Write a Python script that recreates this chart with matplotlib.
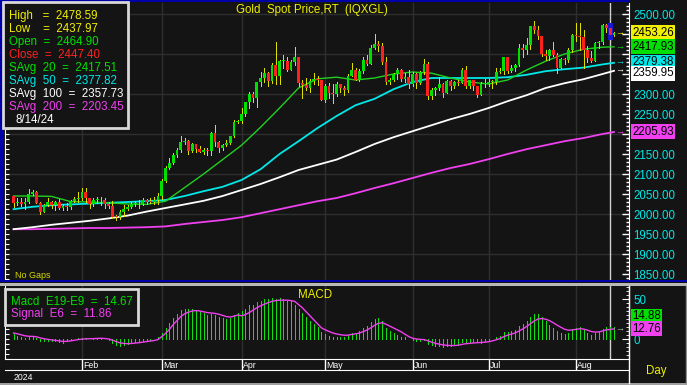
import numpy as np
import pandas as pd
import matplotlib
matplotlib.use('Agg')
import matplotlib.pyplot as plt
from matplotlib.patches import Rectangle
from matplotlib.lines import Line2D
from matplotlib.ticker import MultipleLocator, FixedLocator, FuncFormatter
import matplotlib.transforms as mtransforms

plt.rcParams['font.family'] = ['Liberation Sans', 'DejaVu Sans']

# %% data: daily bars, Jan 8 - Aug 15 2024
dates = pd.bdate_range('2024-01-08', '2024-08-15')

opens = [
    # Jan
    2045, 2028, 2030, 2024, 2029, 2051, 2055, 2028, 2006, 2023, 2029, 2022, 2029, 2014, 2020, 2018, 2032, 2037,
    # Feb
    2039, 2054, 2039, 2025, 2035, 2035, 2034, 2024, 2020, 1993, 1992, 2004, 2013, 2017, 2025, 2025, 2024, 2036, 2031, 2030, 2034,
    # Mar
    2044, 2083, 2114, 2128, 2148, 2159, 2179, 2182, 2158, 2174, 2162, 2155, 2160, 2157, 2203, 2181, 2165, 2172, 2178, 2194, 2230,
    # Apr
    2232, 2251, 2280, 2300, 2290, 2329, 2339, 2352, 2333, 2372, 2344, 2383, 2383, 2361, 2379, 2392, 2327, 2322, 2316, 2332, 2337, 2335,
    # May
    2286, 2320, 2303, 2301, 2324, 2314, 2309, 2346, 2360, 2336, 2358, 2386, 2376, 2415, 2425, 2421, 2379, 2329, 2334, 2350, 2361, 2338, 2343,
    # Jun
    2326, 2350, 2327, 2355, 2376, 2294, 2311, 2316, 2324, 2303, 2333, 2319, 2329, 2328, 2360, 2321, 2334, 2319, 2298, 2326,
    # Jul
    2326, 2330, 2330, 2356, 2357, 2392, 2358, 2364, 2372, 2415, 2411, 2422, 2469, 2459, 2445, 2400, 2396, 2409, 2398, 2364, 2387, 2384, 2411,
    # Aug
    2447, 2446, 2443, 2409, 2390, 2383, 2427, 2431, 2472, 2464.90, 2448,
]
highs = [
    2046, 2040, 2040, 2040, 2062, 2059, 2057, 2031, 2025, 2041, 2033, 2032, 2037, 2024, 2027, 2036, 2043, 2056,
    2065, 2065, 2041, 2040, 2043, 2042, 2039, 2031, 2032, 1997, 2009, 2023, 2023, 2031, 2033, 2035, 2041, 2038, 2040, 2043, 2052,
    2088, 2119, 2141, 2153, 2165, 2195, 2189, 2185, 2178, 2175, 2171, 2164, 2165, 2205, 2223, 2183, 2176, 2184, 2196, 2236, 2234,
    2266, 2281, 2305, 2305, 2330, 2354, 2365, 2354, 2378, 2431, 2385, 2397, 2392, 2385, 2417, 2392, 2334, 2339, 2338, 2352, 2345, 2336,
    2326, 2327, 2324, 2331, 2326, 2319, 2351, 2378, 2364, 2363, 2393, 2398, 2422, 2450, 2433, 2427, 2393, 2340, 2353, 2364, 2362, 2352, 2360,
    2354, 2353, 2358, 2388, 2380, 2314, 2317, 2342, 2327, 2336, 2334, 2333, 2336, 2366, 2369, 2335, 2336, 2320, 2329, 2338,
    2338, 2335, 2365, 2364, 2392, 2393, 2372, 2376, 2424, 2424, 2439, 2469, 2483, 2470, 2446, 2410, 2412, 2431, 2402, 2390, 2391, 2415, 2451,
    2477, 2477, 2461, 2420, 2408, 2431, 2432, 2476, 2474, 2478.59, 2455,
]
lows = [
    2017, 2022, 2021, 2013, 2028, 2047, 2028, 2001, 2006, 2021, 2015, 2011, 2013, 2009, 2011, 2012, 2030, 2031,
    2035, 2030, 2015, 2021, 2027, 2023, 2015, 2016, 1990, 1984, 1987, 1995, 2011, 2015, 2020, 2015, 2022, 2025, 2028, 2025, 2025,
    2038, 2079, 2112, 2125, 2142, 2155, 2176, 2150, 2156, 2154, 2155, 2149, 2147, 2147, 2171, 2156, 2160, 2170, 2174, 2193, 2228,
    2228, 2245, 2266, 2279, 2267, 2320, 2329, 2319, 2327, 2326, 2325, 2365, 2358, 2359, 2372, 2320, 2291, 2310, 2306, 2326, 2323, 2285,
    2280, 2291, 2277, 2295, 2305, 2298, 2306, 2345, 2334, 2332, 2353, 2373, 2376, 2413, 2407, 2374, 2325, 2325, 2332, 2337, 2333, 2329, 2314,
    2320, 2315, 2325, 2351, 2287, 2287, 2298, 2310, 2292, 2302, 2310, 2316, 2322, 2327, 2316, 2316, 2310, 2293, 2298, 2318,
    2319, 2316, 2325, 2352, 2351, 2353, 2355, 2357, 2369, 2393, 2401, 2413, 2453, 2438, 2394, 2384, 2385, 2395, 2353, 2364, 2374, 2380, 2404,
    2432, 2410, 2364, 2380, 2381, 2382, 2415, 2425, 2456, 2437.97, 2446,
]
closes = [
    2028, 2030, 2024, 2029, 2049, 2055, 2028, 2006, 2023, 2029, 2022, 2029, 2014, 2020, 2018, 2032, 2037, 2039,
    2054, 2039, 2025, 2035, 2035, 2034, 2024, 2020, 1993, 1992, 2004, 2013, 2017, 2025, 2025, 2024, 2036, 2031, 2030, 2034, 2044,
    2083, 2114, 2128, 2148, 2159, 2179, 2182, 2158, 2174, 2162, 2155, 2160, 2157, 2203, 2181, 2165, 2172, 2178, 2194, 2230, 2232,
    2251, 2280, 2300, 2290, 2329, 2339, 2352, 2333, 2372, 2344, 2383, 2383, 2361, 2379, 2392, 2327, 2322, 2316, 2332, 2337, 2335, 2286,
    2320, 2303, 2301, 2324, 2314, 2309, 2346, 2360, 2336, 2358, 2386, 2376, 2415, 2425, 2421, 2379, 2329, 2334, 2350, 2361, 2338, 2343, 2326,
    2350, 2327, 2355, 2376, 2294, 2311, 2316, 2324, 2303, 2333, 2319, 2329, 2328, 2360, 2321, 2334, 2319, 2298, 2326, 2326,
    2330, 2330, 2356, 2357, 2392, 2358, 2364, 2372, 2415, 2411, 2422, 2469, 2459, 2445, 2400, 2396, 2409, 2398, 2364, 2387, 2384, 2411, 2447,
    2446, 2443, 2409, 2390, 2383, 2427, 2431, 2472, 2465, 2447.40, 2453.26,
]

# moving averages, every 5 bars
ma_idx = [0, 5, 10, 15, 20, 25, 30, 35, 40, 45, 50, 55, 60, 65, 70, 75, 80, 85, 90, 95,
          100, 105, 110, 115, 120, 125, 130, 135, 140, 145, 150, 155, 158]
sma20 = [2045, 2045, 2044, 2031, 2030, 2028, 2025, 2024, 2032, 2066, 2100, 2136, 2172, 2217, 2265, 2315, 2338,
         2342, 2335, 2340, 2350, 2355, 2352, 2340, 2330, 2325, 2335, 2360, 2382, 2400, 2412, 2417, 2418]
sma50 = [2012, 2018, 2022, 2024, 2026, 2028, 2030, 2032, 2035, 2045, 2057, 2068, 2085, 2112, 2150, 2182, 2215,
         2245, 2272, 2288, 2312, 2330, 2340, 2340, 2340, 2340, 2342, 2348, 2357, 2362, 2366, 2374, 2378]
sma100 = [1962, 1967, 1973, 1978, 1983, 1989, 1996, 2006, 2015, 2024, 2033, 2045, 2060, 2075, 2092, 2110, 2123,
          2136, 2155, 2175, 2192, 2207, 2222, 2237, 2250, 2265, 2282, 2297, 2315, 2327, 2337, 2350, 2358]
sma200 = [1962, 1962, 1963, 1964, 1965, 1965, 1966, 1967, 1969, 1975, 1980, 1985, 1992, 2002, 2012, 2022, 2032,
          2040, 2052, 2065, 2077, 2090, 2103, 2115, 2125, 2137, 2150, 2162, 2172, 2182, 2190, 2200, 2205]

ma_legend = [2417.51, 2377.82, 2357.73, 2203.45]
ma_marker = [2417.93, 2379.38, 2359.95, 2205.93]

macd = [
    6, 4, 2.5, 1, 2, 3, 1.5, -2, -2.5, -2.5, -3, -3, -4, -4.5, -3, -1, 0.5, 1.5,
    1, 1.5, 0.5, 1, 1.5, 1, 0, -1, -5, -8, -8.5, -7.5, -6.5, -5, -4, -3.5, -2, -1.5, -1, 0, 2,
    8, 14, 20, 26, 31, 36, 38, 37, 37, 36, 34, 32, 30, 31, 30, 28, 26, 25, 26, 30, 32,
    35, 38, 42, 43, 46, 48, 50, 50, 51, 50, 51, 50, 48, 47, 43, 38, 32, 27, 23, 19, 15, 9,
    6, 4, 3, 3, 3, 3, 5, 8, 8, 10, 14, 16, 21, 25, 26, 22, 14, 10, 8, 5, 3, 2, 0,
    -1, -2, -2, -1, -6, -8, -9, -9, -10, -9, -9, -8, -7, -4, -4, -4, -4, -4, -5, -3,
    -2, 0, 3, 4, 9, 9, 10, 11, 16, 19, 23, 28, 31, 31, 27, 23, 18, 14, 10, 8, 6, 8, 12,
    14, 15, 11, 8, 5, 7, 9, 13, 15, 14.67, 14.88,
]
signal = [
    7.5, 6.5, 5.3, 4.0, 3.4, 3.3, 2.8, 1.4, 0.3, -0.5, -1.2, -1.7, -2.4, -3.0, -3.0, -2.4, -1.6, -0.7,
    -0.2, 0.3, 0.3, 0.5, 0.8, 0.9, 0.6, 0.1, -1.4, -3.3, -4.8, -5.6, -5.9, -5.6, -5.1, -4.6, -3.9, -3.2, -2.6, -1.9, -0.7,
    3, 7, 12, 18, 23, 28, 31.5, 33.5, 35, 35.5, 35, 34, 33, 32.5, 32, 31, 29.5, 28, 27.5, 28.5, 30,
    29, 30.5, 33, 36, 39, 41.5, 43.5, 45.5, 47, 48, 48.5, 48.5, 48.5, 48, 47, 43, 39, 34, 29, 24, 19, 14,
    11.5, 9.4, 7.6, 6.3, 5.4, 4.7, 4.8, 5.7, 6.4, 7.4, 9.3, 11.2, 14, 17.1, 19.6, 20.3, 18.5, 16.1, 13.8, 11.3, 9, 6, 3,
    1, 0, -0.5, -0.7, -2.2, -3.9, -5.4, -6.4, -7.4, -7.9, -8.2, -8.1, -7.8, -6.7, -5.9, -5.4, -5, -4.7, -4.4, -4,
    -3.4, -2.4, -0.9, 0.5, 3, 4.7, 6.2, 7.6, 10, 12.6, 15.6, 19.1, 22.5, 25, 25.5, 24.8, 23, 20.4, 17.4, 14.7, 12.2, 11, 11.3,
    12, 12.9, 12.4, 11.1, 9.4, 8.7, 8.8, 10, 11.4, 11.86, 12.76,
]

cursor_bar = 157  # 8/14/24

# %% layout helpers (pixel coords of the 687x385 picture)
W, H = 687, 385
BG = '#141414'
GRID = '#2e2e2e'
YEL = '#f0f000'
GRN = '#00e000'
RED = '#ff2020'
CYN = '#00e8e8'
MAG = '#f040f0'
PX = 0.72  # one pixel, in points


def fx(px):
    return px / W


def fy(py):
    return 1 - py / H


fig = plt.figure(figsize=(W / 100, H / 100), dpi=100, facecolor=BG)


def panel(top, bottom, left=5, right=629):
    a = fig.add_axes([fx(left), fy(bottom), fx(right) - fx(left), fy(top) - fy(bottom)], facecolor=BG)
    for s in a.spines.values():
        s.set_visible(False)
    a.tick_params(axis='x', bottom=False, labelbottom=False)
    return a


x = np.arange(len(dates))
xlim = (-2.26, 161.95)
month_starts = [i for i in range(1, len(dates)) if dates[i].month != dates[i - 1].month]

ax = panel(3, 280)
ax2 = panel(286, 359)
ax3 = panel(359, 370)
for a in (ax, ax2, ax3):
    a.set_xlim(*xlim)

# %% main price panel
ax.set_ylim(1835, 2527.5)
for lvl in range(1900, 2501, 100):
    ax.axhline(lvl, color=GRID, lw=1, zorder=0)
for m in month_starts:
    ax.axvline(m, color=GRID, lw=1, zorder=0)
ax.axvline(cursor_bar, color='#d0d0d0', lw=1, zorder=1)

o = np.array(opens)
c = np.array(closes)
up = c >= o
body_lo = np.minimum(o, c)
body_h = np.maximum(np.abs(c - o), 2)
wick_col = ['#e0e000'] * len(x)
wick_col[cursor_bar] = '#1818d0'
ax.vlines(x, lows, highs, colors=wick_col, lw=PX, zorder=3, antialiased=False)
ax.vlines([cursor_bar], lows[cursor_bar], highs[cursor_bar], colors='#1818d0', lw=2.5, zorder=3,
          antialiased=False)
ax.bar(x, body_h, bottom=body_lo, width=0.72, color=np.where(up, GRN, RED), zorder=4, linewidth=0,
       antialiased=False)

ax.plot(ma_idx, sma200, color=MAG, lw=1.3, zorder=2)
ax.plot(ma_idx, sma100, color='white', lw=1.3, zorder=2)
ax.plot(ma_idx, sma50, color=CYN, lw=1.3, zorder=2)
ax.plot(ma_idx, sma20, color='#20d020', lw=1.0, zorder=2)

# right axis
ax.yaxis.tick_right()
ax.spines['right'].set_visible(True)
ax.spines['right'].set_color('white')
ax.yaxis.set_major_locator(MultipleLocator(50))
ax.yaxis.set_minor_locator(MultipleLocator(10))
shown = {1850, 1900, 1950, 2000, 2050, 2100, 2150, 2250, 2300, 2500}
ax.yaxis.set_major_formatter(FuncFormatter(lambda v, p: f'{v:.2f}' if round(v) in shown else ''))
ax.tick_params(axis='y', which='major', direction='in', length=5, color='white', width=1,
               labelcolor=CYN, labelsize=8.3, pad=3)
ax.tick_params(axis='y', which='minor', direction='in', length=2.5, color='white', width=1)
sec = ax.secondary_yaxis('left')
sec.yaxis.set_major_locator(MultipleLocator(12.5))
sec.tick_params(direction='in', length=3, color='white', labelleft=False)
sec.spines['left'].set_color('white')

# value markers on the right
blend = mtransforms.blended_transform_factory(ax.transAxes, ax.transData)
marks = [(closes[-1], '#f0f000', 0), (ma_marker[0], GRN, 0), (ma_marker[1], CYN, 0),
         (ma_marker[2], 'white', -2.5), (ma_marker[3], MAG, 0)]
for val, col, dy in marks:
    ax.annotate(f'{val:.2f}', xy=(1.005, val), xycoords=blend, xytext=(0, dy), textcoords='offset points',
                ha='left', va='center', fontsize=8.3, color='black', annotation_clip=False,
                bbox=dict(boxstyle='square,pad=0.12', fc=col, ec='none'))
    ax.text(0.9856, val, '→', transform=blend, color=col, fontsize=6.5, ha='center', va='center',
            fontweight='bold', zorder=6)

# %% MACD panel
ax2.set_ylim(-25, 66.25)
for m in month_starts:
    ax2.axvline(m, color=GRID, lw=1, zorder=0)
ax2.axvline(cursor_bar, color='#d0d0d0', lw=1, zorder=1)
ax2.vlines(x, 0, macd, colors='#10e010', lw=PX, zorder=2, antialiased=False)
ax2.plot(x, signal, color=MAG, lw=1, zorder=3)
ax2.yaxis.tick_right()
ax2.spines['right'].set_visible(True)
ax2.spines['right'].set_color('white')
ax2.yaxis.set_major_locator(FixedLocator([0, 50]))
ax2.yaxis.set_minor_locator(MultipleLocator(5))
ax2.yaxis.set_major_formatter(FuncFormatter(lambda v, p: f'{v:.0f}'))
ax2.tick_params(axis='y', which='major', direction='in', length=5, color='white',
                labelcolor=CYN, labelsize=8.3, pad=3)
ax2.tick_params(axis='y', which='minor', direction='in', length=2.5, color='white')
sec2 = ax2.secondary_yaxis('left')
sec2.yaxis.set_major_locator(MultipleLocator(6.25))
sec2.tick_params(direction='in', length=3, color='white', labelleft=False)
sec2.spines['left'].set_color('white')
blend2 = mtransforms.blended_transform_factory(ax2.transAxes, ax2.transData)
for val, col, dy in [(macd[-1], GRN, 8), (signal[-1], MAG, 0)]:
    ax2.annotate(f'{val:.2f}', xy=(1.005, val), xycoords=blend2, xytext=(0, dy), textcoords='offset points',
                 ha='left', va='center', fontsize=8.3, color='black', annotation_clip=False,
                 bbox=dict(boxstyle='square,pad=0.12', fc=col, ec='none'))
# a single marker arrow, as both values sit on the same pixel row
ax2.text(0.9856, signal[-1], '→', transform=blend2, color='#a0c0a0', fontsize=6.5, ha='center',
         va='center', fontweight='bold', zorder=6)

# %% date strip
ax3.set_ylim(0, 1)
ax3.tick_params(axis='y', left=False, labelleft=False)
ax3.spines['top'].set_visible(True)
ax3.spines['bottom'].set_visible(True)
ax3.spines['top'].set_color('white')
ax3.spines['bottom'].set_color('white')
for m in month_starts:
    ax3.axvline(m, color='white', lw=1)
    ax3.text(m + 0.3, 0.42, dates[m].strftime('%b'), color='white', fontsize=6.3, ha='left', va='center')


# %% frame decorations
def rect(x0, y0, x1, y1, **kw):
    fig.add_artist(Rectangle((fx(x0), fy(y1)), fx(x1) - fx(x0), fy(y0) - fy(y1),
                             transform=fig.transFigure, **kw))


rect(0, 0, 3, 280, fc='#0000a8', ec='none')
rect(0, 0, 629, 2, fc='#0000a8', ec='none')
rect(0, 279.5, W, 282, fc='#0000a8', ec='none')
rect(0, 283, W, 286, fc='#b8b8b8', ec='none')
rect(0, 382.5, W, 385, fc='#a0a0a0', ec='none')
fig.add_artist(Line2D([fx(629), fx(629)], [fy(286), fy(383)], color='white', lw=1, transform=fig.transFigure))
fig.add_artist(Line2D([fx(685.5), fx(685.5)], [fy(286), fy(383)], color='#909090', lw=1, transform=fig.transFigure))

# price legend box
rect(2.5, 2.5, 128, 128, fc=BG, ec='#d8d8d8', lw=2)
leg = [
    (f'High   =  {highs[cursor_bar]:.2f}', YEL),
    (f'Low    =  {lows[cursor_bar]:.2f}', YEL),
    (f'Open  =  {opens[cursor_bar]:.2f}', GRN),
    (f'Close  =  {closes[cursor_bar]:.2f}', RED),
    (f'SAvg  20  =  {ma_legend[0]:.2f}', GRN),
    (f'SAvg  50  =  {ma_legend[1]:.2f}', CYN),
    (f'SAvg  100  =  {ma_legend[2]:.2f}', 'white'),
    (f'SAvg  200  =  {ma_legend[3]:.2f}', MAG),
]
for k, (txt, col) in enumerate(leg):
    fig.text(fx(9), fy(16 + 13 * k), txt, color=col, fontsize=8.3, ha='left', va='center')
fig.text(fx(15), fy(120), dates[cursor_bar].strftime('%-m/%-d/%y'), color='white', fontsize=8.3,
         ha='left', va='center')

# MACD legend box
rect(4.5, 288.5, 138, 325, fc=BG, ec='#d8d8d8', lw=2)
fig.text(fx(11), fy(302), f'Macd  E19-E9  =  {macd[cursor_bar]:.2f}', color=GRN, fontsize=8.3, va='center')
fig.text(fx(11), fy(314.5), f'Signal  E6  =  {signal[cursor_bar]:.2f}', color=MAG, fontsize=8.3, va='center')

fig.text(fx(312), fy(10), 'Gold  Spot Price,RT  (IQXGL)', color=YEL, fontsize=8.3, ha='center', va='center')
fig.text(fx(315), fy(295), 'MACD', color=YEL, fontsize=8.3, ha='center', va='center')
fig.text(fx(15), fy(275), 'No Gaps', color='#d8d800', fontsize=6.5, ha='left', va='center')
fig.text(fx(14), fy(377), '2024', color='white', fontsize=6.3, ha='left', va='center')
fig.text(fx(656), fy(371), 'Day', color=YEL, fontsize=8.3, ha='center', va='center')

fig.savefig('out.png', dpi=100, facecolor=BG)
